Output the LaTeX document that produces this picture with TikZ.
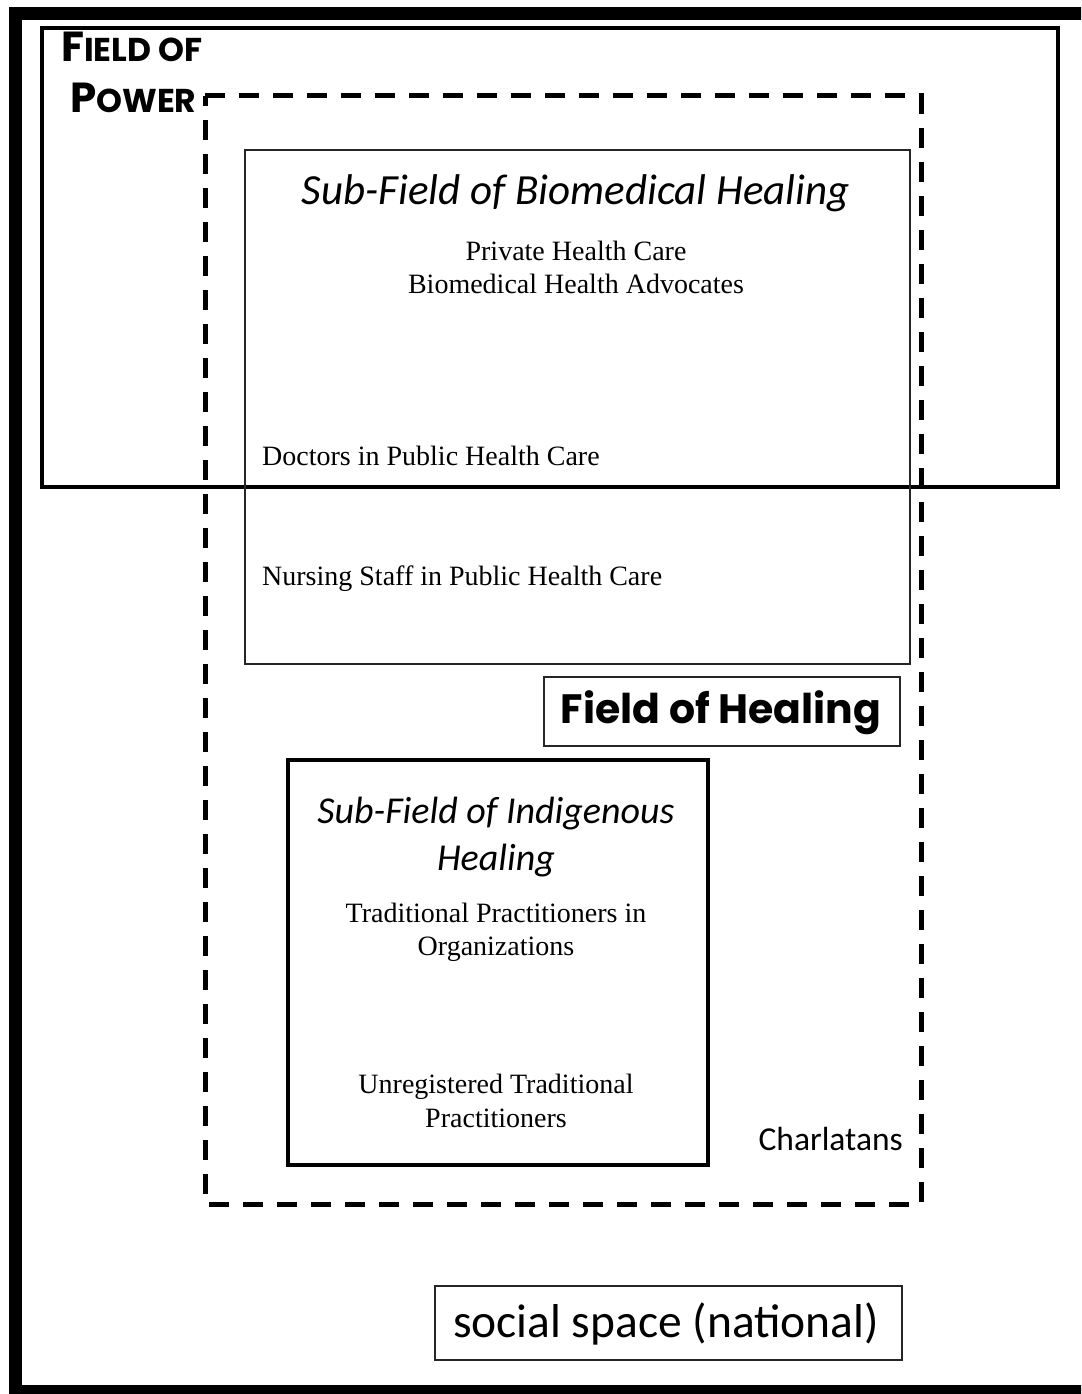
\documentclass[tikz,border=0pt]{standalone}
\usepackage{fontspec}
\setmainfont{Liberation Serif}
\newfontfamily\calib{Carlito}
\newfontfamily\tcen{Poppins}[UprightFont=* Bold]
\begin{document}
\begin{tikzpicture}[x=1pt,y=-1pt,
  thinbox/.style={draw=black!85,line width=1.6pt},
  thickbox/.style={draw=black,line width=4.8pt},
  dashbox/.style={draw=black,line width=5pt,dash pattern=on 20pt off 14pt},
  title/.style={font=\calib\itshape\fontsize{38}{44}\selectfont,anchor=base,inner sep=0pt},
  serif/.style={font=\fontsize{28}{34}\selectfont,anchor=base,inner sep=0pt},
  serifl/.style={font=\fontsize{28}{34}\selectfont,anchor=base west,inner sep=0pt},
  label/.style={inner sep=0pt}]
\clip (0,0) rectangle (1081,1394);
\fill[white] (0,0) rectangle (1081,1394);
% outer social space frame
\draw[line width=13pt] (15,14) rectangle (1110,1391);
% field of power
\draw[thickbox] (42,28) rectangle (1058,487);
% field of healing (dashed)
\draw[dashbox] (205,96) -- (921,96) -- (921,1204) -- (205,1204) -- cycle;
% biomedical sub-field
\draw[thinbox] (245,150) rectangle (910,664);
% indigenous sub-field
\draw[line width=4pt] (288,760) rectangle (708,1165);
% field of healing label box
\draw[thinbox] (544,677) rectangle (900,746);
% social space label box
\draw[thinbox] (435,1286) rectangle (902,1360);

\node[label,anchor=base west,font=\tcen] (fop1) at (61,62)
  {\fontsize{42}{42}\selectfont F\fontsize{33}{33}\selectfont IELD OF};
\node[label,anchor=base west,font=\tcen] (fop2) at (70,113)
  {\fontsize{42}{42}\selectfont P\fontsize{33}{33}\selectfont OWER};

\node[title,font=\calib\itshape\fontsize{43}{44}\selectfont] (bioT) at (576,204) {Sub-Field of Biomedical Healing};
\node[serif] (priv) at (576,260) {Private Health Care};
\node[serif] (adv) at (576,293) {Biomedical Health Advocates};
\node[serifl] (doc) at (262,465) {Doctors in Public Health Care};
\node[serifl] (nurse) at (262,585) {Nursing Staff in Public Health Care};

\node[label,anchor=base,font=\tcen\fontsize{41}{41}\selectfont] (foh) at (721,723) {Field of Healing};

\node[title] (indT1) at (496,823) {Sub-Field of Indigenous};
\node[title] (indT2) at (496,870) {Healing};
\node[serif] (trad1) at (496,922) {Traditional Practitioners in};
\node[serif] (trad2) at (496,955) {Organizations};
\node[serif] (unreg1) at (496,1093) {Unregistered Traditional};
\node[serif] (unreg2) at (496,1127) {Practitioners};

\node[label,anchor=base east,font=\calib\fontsize{33.5}{34}\selectfont] (charl) at (903,1150) {Charlatans};
\node[label,anchor=base,font=\calib\fontsize{47.5}{48}\selectfont] (soc) at (666,1337) {social space (national)};
\end{tikzpicture}
\end{document}
